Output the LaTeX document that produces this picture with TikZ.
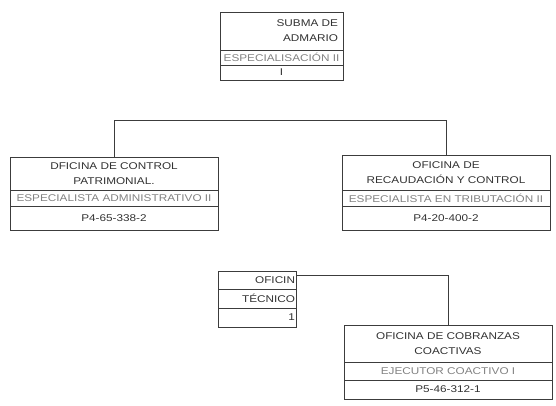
\documentclass[tikz,border=0pt]{standalone}
\usepackage{fontspec}
\usepackage{xcolor}
\usepackage{tikz}
\usetikzlibrary{positioning}
\newfontfamily\orgfont{Liberation Sans}[FakeStretch=1.2]
\definecolor{OrgLine}{RGB}{60,60,60}
\definecolor{OrgText}{RGB}{50,50,50}
\definecolor{OrgFaint}{RGB}{130,130,130}
\tikzset{
  cell/.style={
    rectangle, draw=OrgLine, line width=0.8pt, inner sep=0pt, outer sep=0pt,
    minimum width=208pt, minimum height=17pt,
    font=\orgfont\fontsize{9.8}{15}\selectfont, text=OrgText
  },
  titlecell/.style={cell, align=center},
  rolecell/.style={cell, text=OrgFaint},
  link/.style={draw=OrgLine, line width=0.8pt}
}

\begin{document}
\begin{tikzpicture}[x=1pt, y=-1pt, node distance=0pt]
  \useasboundingbox (0,0) rectangle (556,405);

  % ── Head office ──
  \node[titlecell, minimum width=123pt, minimum height=38pt,
        text width=113pt, align=right] (sub) at (281.5,31) {SUBMA DE\\ADMARIO};
  \node[rolecell, minimum width=123pt, minimum height=15pt, below=of sub] (subrol) {ESPECIALISACIÓN II};
  \node[cell, minimum width=123pt, minimum height=15pt, below=of subrol] (subcod) {I};

  % ── Second level ──
  \node[titlecell, minimum height=33pt] (pat) at (114,173.5) {DFICINA DE CONTROL\\PATRIMONIAL.};
  \node[rolecell, minimum height=16pt, below=of pat] (patrol) {ESPECIALISTA ADMINISTRATIVO II};
  \node[cell, minimum height=24pt, below=of patrol] (patcod) {P4-65-338-2};

  \node[titlecell, minimum height=35pt] (rec) at (446,172.5) {OFICINA DE\\RECAUDACIÓN Y CONTROL};
  \node[rolecell, minimum height=16pt, below=of rec] (recrol) {ESPECIALISTA EN TRIBUTACIÓN II};
  \node[cell, minimum height=24pt, below=of recrol] (reccod) {P4-20-400-2};

  % ── Third level ──
  \node[cell, minimum width=78pt, minimum height=18pt, text width=76pt, align=right] (ofi) at (257,280) {OFICIN};
  \node[cell, minimum width=78pt, minimum height=19pt, text width=76pt, align=right, below=of ofi] (ofirol) {TÉCNICO};
  \node[cell, minimum width=78pt, minimum height=19pt, text width=76pt, align=right, below=of ofirol] (oficod) {1};

  \node[titlecell, minimum height=37pt] (cob) at (448,343.5) {OFICINA DE COBRANZAS\\COACTIVAS};
  \node[rolecell, minimum height=18pt, below=of cob] (cobrol) {EJECUTOR COACTIVO I};
  \node[cell, minimum height=19pt, below=of cobrol] (cobcod) {P5-46-312-1};

  % ── Connectors ──
  \draw[link] (pat.north) -- ++(0,-37) -| (rec.north);
  \draw[link] ([yshift=5pt]ofi.east) -| (cob.north);
\end{tikzpicture}
\end{document}
